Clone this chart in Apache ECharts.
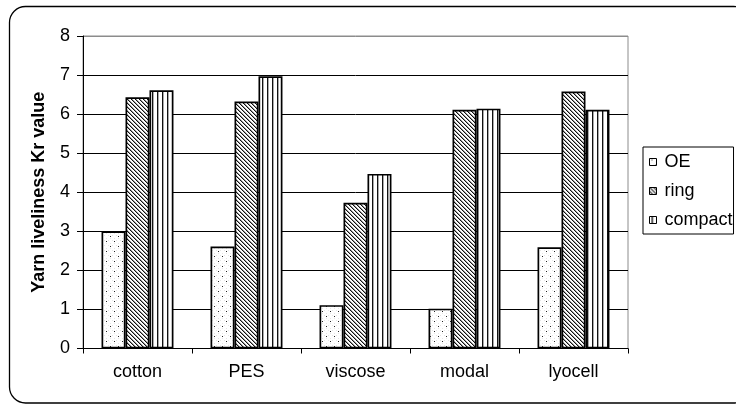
<!DOCTYPE html>
<html>
<head>
<meta charset="utf-8">
<script src="https://cdn.jsdelivr.net/npm/echarts@6/dist/echarts.min.js"></script>
<style>
html,body{margin:0;padding:0;background:#fff;}
#chart{width:736px;height:405px;}
</style>
</head>
<body>
<div id="chart"></div>
<script>
var categories = ['cotton', 'PES', 'viscose', 'modal', 'lyocell'];
var seriesNames = ['OE', 'ring', 'compact'];
var oeValues = [3.0, 2.61, 1.11, 1.02, 2.59];
var ringValues = [6.43, 6.32, 3.73, 6.11, 6.58];
var compactValues = [6.61, 6.97, 4.47, 6.14, 6.11];
var yTicks = [0, 1, 2, 3, 4, 5, 6, 7, 8];

function makeCanvas(w, h) {
  var c = document.createElement('canvas');
  c.width = w; c.height = h;
  var ctx = c.getContext('2d');
  ctx.fillStyle = '#fff';
  ctx.fillRect(0, 0, w, h);
  return {c: c, ctx: ctx};
}
function dotPattern() {
  var p = makeCanvas(8, 10);
  var ctx = p.ctx;
  ctx.fillStyle = '#e6e6e6';
  [[0,0],[4,0],[2,3],[6,3],[0,5],[4,5],[2,8],[6,8]].forEach(function(d){ ctx.fillRect(d[0], d[1], 1, 1); });
  ctx.fillStyle = '#222';
  ctx.fillRect(2, 1, 1, 1);
  ctx.fillRect(6, 6, 1, 1);
  return {image: p.c, repeat: 'repeat'};
}
function diagPattern() {
  var p = makeCanvas(4, 4);
  var ctx = p.ctx;
  for (var i = 0; i < 4; i++) {
    ctx.fillStyle = '#111';
    ctx.fillRect(i, i, 1, 1);
    ctx.fillStyle = '#999';
    ctx.fillRect((i + 1) % 4, i, 1, 1);
  }
  return {image: p.c, repeat: 'repeat'};
}
function vertPattern() {
  var p = makeCanvas(5, 2);
  var ctx = p.ctx;
  ctx.fillStyle = '#111';
  ctx.fillRect(2, 0, 1, 2);
  ctx.fillStyle = '#aaa';
  ctx.fillRect(3, 0, 1, 2);
  return {image: p.c, repeat: 'repeat'};
}

var patterns = [dotPattern(), diagPattern(), vertPattern()];
var valueSets = [oeValues, ringValues, compactValues];
var FONT = "'Liberation Sans', Arial, sans-serif";

var chart = echarts.init(document.getElementById('chart'), null, {renderer: 'canvas'});
var series = seriesNames.map(function(name, i) {
  return {
    name: name,
    type: 'bar',
    data: valueSets[i],
    barGap: '0%',
    barCategoryGap: '34%',
    itemStyle: {color: patterns[i], borderColor: '#000', borderWidth: 1.7},
    emphasis: {disabled: true},
    animation: false
  };
});

chart.setOption({
  animation: false,
  textStyle: {fontFamily: FONT},
  grid: {left: 83, right: 108, top: 36, bottom: 56.5, show: true, borderColor: '#8c8c8c', borderWidth: 1, containLabel: false},
  legend: {
    orient: 'vertical',
    left: 643, top: 147,
    padding: [6, 1, 5, 6],
    icon: 'rect',
    itemWidth: 7, itemHeight: 7,
    itemGap: 11,
    borderColor: '#000', borderWidth: 1,
    backgroundColor: '#fff',
    selectedMode: false,
    data: seriesNames,
    itemStyle: {borderColor: '#000', borderWidth: 1},
    textStyle: {fontSize: 18, color: '#000', fontFamily: FONT, lineHeight: 18, padding: [0, 0, 0, 3]}
  },
  xAxis: {
    type: 'category',
    data: categories,
    axisLine: {lineStyle: {color: '#000', width: 1}},
    axisTick: {show: true, length: 5, lineStyle: {color: '#000'}},
    axisLabel: {fontSize: 18, color: '#000', margin: 15, fontFamily: FONT},
    splitLine: {show: false}
  },
  yAxis: {
    type: 'value',
    min: yTicks[0], max: yTicks[yTicks.length - 1], interval: 1,
    name: 'Yarn liveliness Kr value',
    nameLocation: 'middle',
    nameRotate: 90,
    nameGap: 35,
    nameTextStyle: {fontSize: 18, fontWeight: 'bold', color: '#000', fontFamily: FONT},
    axisLine: {show: true, lineStyle: {color: '#000', width: 1}},
    axisTick: {show: true, length: 6, lineStyle: {color: '#000'}},
    axisLabel: {fontSize: 18, color: '#000', margin: 13, fontFamily: FONT},
    splitLine: {show: true, lineStyle: {color: ['#000', '#000', '#000', '#000', '#000', '#000', '#000', '#000', '#8c8c8c'], width: 1}}
  },
  graphic: [{
    type: 'rect',
    silent: true,
    z: -10,
    shape: {x: 9.5, y: 6.5, width: 740, height: 396.5, r: 16},
    style: {fill: 'none', stroke: '#000', lineWidth: 1.3}
  }],
  series: series
});
</script>
</body>
</html>
